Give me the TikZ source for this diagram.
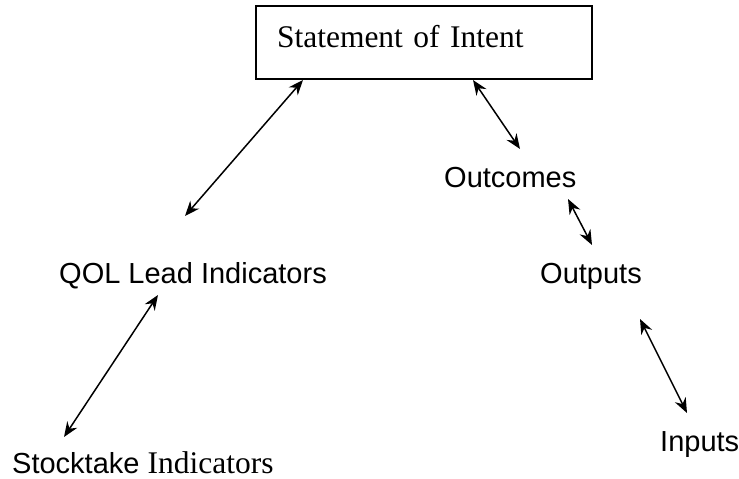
\documentclass[tikz,border=0pt]{standalone}
\usepackage{fontspec}
\setmainfont{Liberation Serif}
\newfontfamily\arialfont{Liberation Sans}
\usetikzlibrary{arrows.meta}

\tikzset{
  intentbox/.style={draw, line width=1.5pt, minimum width=336pt, minimum height=73pt,
    text width=294pt, align=left, inner xsep=21pt, inner ysep=0pt,
    text height=22pt, text depth=13pt, font=\fontsize{31.5}{36}\selectfont},
  tag/.style={inner sep=0pt, anchor=base west, font=\arialfont\fontsize{29}{33}\selectfont},
  link/.style={{Stealth[length=15pt,width=12pt,inset=5pt]}-{Stealth[length=15pt,width=12pt,inset=5pt]},
    line width=1.5pt}
}

\begin{document}
\begin{tikzpicture}[x=1pt, y=-1pt]
    \useasboundingbox (0,0) rectangle (739,479);

    % ---------------------------------------------
    % top box
    \node[intentbox] (intent) at (424,42.5) {Statement of Intent};

    % ---------------------------------------------
    % left branch
    \node[tag] (qol) at (59,283) {QOL Lead Indicators};
    \node[tag] (stock) at (12,473) {Stocktake {\rmfamily\fontsize{31.5}{36}\selectfont Indicators}};

    % ---------------------------------------------
    % right branch
    \node[tag] (outcomes) at (444,187) {Outcomes};
    \node[tag] (outputs) at (540,283) {Outputs};
    \node[tag] (inputs) at (660,451) {Inputs};

    % free ends of the arrows
    \coordinate (q1) at (303,80);
    \coordinate (q2) at (185,216);
    \coordinate (s1) at (158,295);
    \coordinate (s2) at (64,437);
    \coordinate (o1) at (473,80);
    \coordinate (o2) at (520,149);
    \coordinate (p1) at (568,199);
    \coordinate (p2) at (592,245);
    \coordinate (i1) at (640,319);
    \coordinate (i2) at (687,413);

    % ---------------------------------------------
    % double arrows
    \draw[link] (q1) -- (q2);
    \draw[link] (s1) -- (s2);
    \draw[link] (o1) -- (o2);
    \draw[link] (p1) -- (p2);
    \draw[link] (i1) -- (i2);

\end{tikzpicture}
\end{document}
